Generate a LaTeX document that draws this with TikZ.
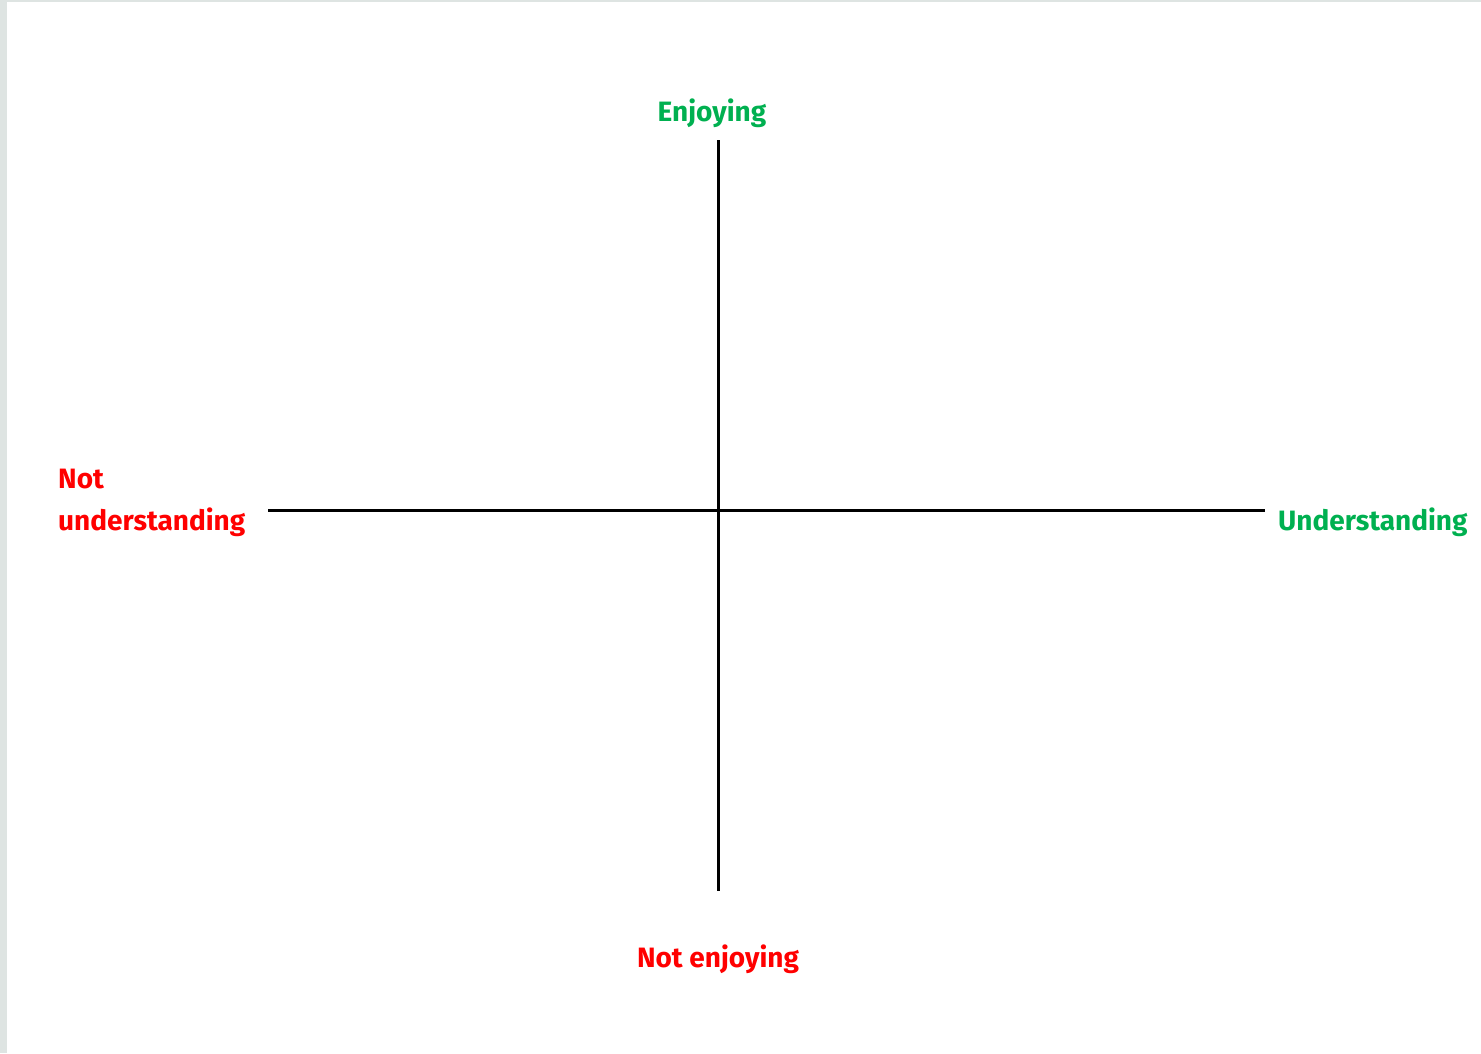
\documentclass[tikz,border=0pt]{standalone}
\usepackage{fontspec}
\setmainfont{Fira Sans}
\definecolor{goodgreen}{HTML}{00B050}
\definecolor{badred}{HTML}{FF0000}
\definecolor{edgegray}{HTML}{DEE4E2}
\tikzset{
  axis/.style={line width=3pt, black},
  lbl/.style={font=\fontsize{28}{42}\selectfont\bfseries, inner sep=0pt},
  good/.style={lbl, text=goodgreen},
  bad/.style={lbl, text=badred},
}
\begin{document}
\begin{tikzpicture}[x=1pt,y=-1pt]
\useasboundingbox (0,0) rectangle (1481,1053);
\fill[edgegray] (0,0) rectangle (7,1053);
\fill[edgegray] (0,0) rectangle (1481,1.5);
\coordinate (top) at (718,140);
\coordinate (bottom) at (718,891);
\coordinate (left) at (268,510);
\coordinate (right) at (1265,510);
\draw[axis] (top) -- (bottom);
\draw[axis] (left) -- (right);
\node[good] (enj) at (712,113) {Enjoying};
\node[bad] (nenj) at (718,959) {Not enjoying};
\node[good, anchor=west] (und) at (1278,522) {Understanding};
\node[bad, anchor=west, align=left] (nund) at (58,503) {Not\\understanding};
\end{tikzpicture}
\end{document}
